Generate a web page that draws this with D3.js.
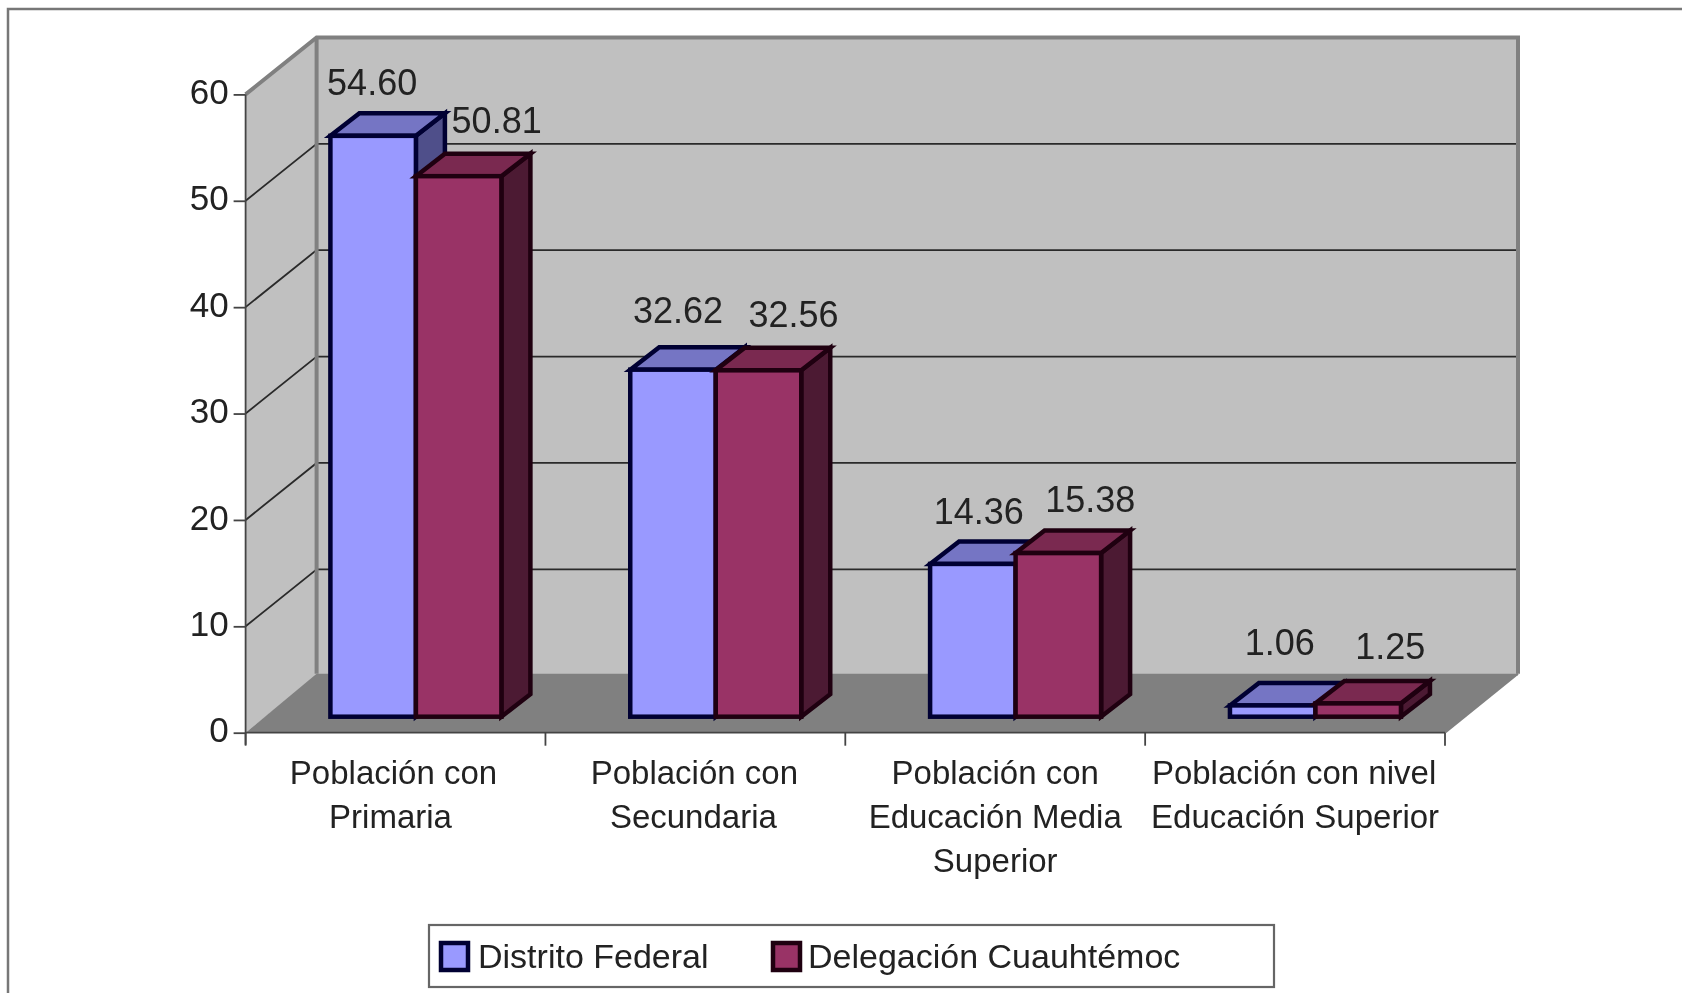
<!DOCTYPE html>
<html><head><meta charset="utf-8">
<script src="https://cdnjs.cloudflare.com/ajax/libs/d3/7.8.5/d3.min.js"></script>
<style>html,body{margin:0;padding:0;background:#fff;overflow:hidden}svg{display:block;filter:blur(0.5px)}text{font-family:"Liberation Sans",Arial,sans-serif;fill:#222}</style>
</head><body><svg id="c" width="1682" height="993"></svg>
<script>
const categories=[["Población con","Primaria"],["Población con","Secundaria"],["Población con","Educación Media","Superior"],["Población con nivel","Educación Superior"]];
const seriesNames=["Distrito Federal","Delegación Cuauhtémoc"];
const distritoFederal=[54.60,32.62,14.36,1.06];
const delegacionCuauhtemoc=[50.81,32.56,15.38,1.25];
const yTicks=[0,10,20,30,40,50,60];

const colors=[{front:"#9999FF",top:"#7575C4",side:"#4F4F8A",stroke:"#000033"},
              {front:"#993366",top:"#7A2950",side:"#4C1A33",stroke:"#1F0010"}];
// label offsets from each bar's front-top centre
const labelNudge=[[[-1,-54],[5,-60],[6,-53],[7,-63]],[[38,-56],[35,-56],[32,-54],[32,-57]]];
// per-line nudge of category labels (reference centring is not exact)
const catNudge=[[-2,-5],[-1,-2],[0,0,0],[-1,0]];

const svg=d3.select("#c");
const FS=33,LABEL_FS=36,AXIS_FS=35,LEGEND_FS=34;
const left=245.6,right=1445,y0=732.7,y60=94.4,depthL=71,depthR=73,depthY=57,floorDepth=59;
const backL=left+depthL,backR=right+depthR;
const barDX=19.3,barDY=16,sideX=29,sideY=22.5;
const y=d3.scaleLinear().domain([0,60]).range([y0,y60]);
const x0=d3.scaleBand().domain(d3.range(categories.length)).range([left,right]);
const x1=d3.scaleBand().domain([0,1]).range([65.5,236.5]);
const path=p=>"M"+p.map(a=>a.join(",")).join("L")+"Z";

// outer frame
svg.append("path").attr("d","M8,993V9H1682").attr("fill","none").attr("stroke","#777").attr("stroke-width",2.5);

// walls
svg.append("path").attr("d",path([[backL,y60-depthY],[backR,y60-depthY],[backR,y0-depthY],[backL,y0-depthY]])).attr("fill","#C0C0C0");
svg.append("path").attr("d",path([[left,y60],[backL,y60-depthY],[backL,y0-depthY],[left,y0]])).attr("fill","#C0C0C0");
svg.append("path").attr("d",path([[left,y0],[right,y0],[backR,y0-floorDepth],[backL,y0-floorDepth]])).attr("fill","#808080");

// gridlines
const grid=svg.append("g").attr("fill","none").attr("stroke","#2a2a2a").attr("stroke-width",1.8);
yTicks.filter(v=>v>0&&v<60).forEach(v=>{
  grid.append("path").attr("d",`M${left},${y(v)}L${backL},${y(v)-depthY}H${backR}`);
});
// wall borders
svg.append("path").attr("d",`M${left},${y60}L${backL},${y60-depthY}H${backR}V${y0-floorDepth}`).attr("fill","none").attr("stroke","#808080").attr("stroke-width",4);
svg.append("path").attr("d",`M${backL},${y60-depthY}V${y0-floorDepth}`).attr("fill","none").attr("stroke","#808080").attr("stroke-width",4);
svg.append("path").attr("d",`M${right},${y0}L${backR},${y0-floorDepth}`).attr("fill","none").attr("stroke","#808080").attr("stroke-width",2);

// y axis
const yAxis=svg.append("g").attr("transform",`translate(${left},0)`).call(d3.axisLeft(y).tickValues(yTicks).tickSize(12).tickPadding(5));
yAxis.selectAll("line").attr("stroke","#444").attr("stroke-width",1.8);
yAxis.select(".domain").attr("d",`M0,${y60}V${y0+12}`).attr("stroke","#444").attr("stroke-width",1.8);
yAxis.selectAll("text").attr("font-size",AXIS_FS).attr("dy","0.26em").style("font-family",'"Liberation Sans"').attr("fill","#222");

// x axis
svg.append("line").attr("x1",left).attr("x2",right).attr("y1",y0).attr("y2",y0).attr("stroke","#444").attr("stroke-width",1.8);
d3.range(categories.length+1).forEach(i=>{
  const x=i<categories.length?x0(i):right;
  svg.append("line").attr("x1",x).attr("x2",x).attr("y1",y0).attr("y2",y0+13).attr("stroke","#444").attr("stroke-width",1.8);
});
categories.forEach((lines,i)=>{
  const t=svg.append("text").attr("text-anchor","middle").attr("font-size",FS);
  lines.forEach((l,k)=>t.append("tspan").attr("x",x0(i)+x0.bandwidth()/2+catNudge[i][k]).attr("y",784+k*44).text(l));
});

// bars
const values=[distritoFederal,delegacionCuauhtemoc];
categories.forEach((_,i)=>{
  [0,1].forEach(s=>{
    const c=colors[s],v=values[s][i];
    const xa=x0(i)+x1(s)+barDX,xb=xa+x1.bandwidth(),yb=y(0)-barDY,yt=y(v)-barDY;
    const g=svg.append("g").attr("stroke",c.stroke).attr("stroke-width",4.5).attr("stroke-linejoin","miter");
    g.append("path").attr("d",path([[xb,yt],[xb+sideX,yt-sideY],[xb+sideX,yb-sideY],[xb,yb]])).attr("fill",c.side);
    g.append("path").attr("d",path([[xa,yt],[xa+sideX,yt-sideY],[xb+sideX,yt-sideY],[xb,yt]])).attr("fill",c.top);
    g.append("rect").attr("x",xa).attr("y",yt).attr("width",x1.bandwidth()).attr("height",yb-yt).attr("fill",c.front);
  });
});
// value labels
categories.forEach((_,i)=>{
  [0,1].forEach(s=>{
    const v=values[s][i];
    svg.append("text").attr("text-anchor","middle").attr("font-size",LABEL_FS)
      .attr("x",x0(i)+x1(s)+barDX+x1.bandwidth()/2+labelNudge[s][i][0])
      .attr("y",y(v)-barDY+labelNudge[s][i][1]+13)
      .text(v.toFixed(2));
  });
});

// legend
svg.append("rect").attr("x",429).attr("y",925).attr("width",845).attr("height",62).attr("fill","#fff").attr("stroke","#666").attr("stroke-width",2.2);
const legendX=[441,773],textX=[478,808];
seriesNames.forEach((n,s)=>{
  svg.append("rect").attr("x",legendX[s]).attr("y",943).attr("width",27).attr("height",27).attr("fill",colors[s].front).attr("stroke",colors[s].stroke).attr("stroke-width",4.5);
  svg.append("text").attr("x",textX[s]).attr("y",968).attr("font-size",LEGEND_FS).text(n);
});
</script></body></html>
